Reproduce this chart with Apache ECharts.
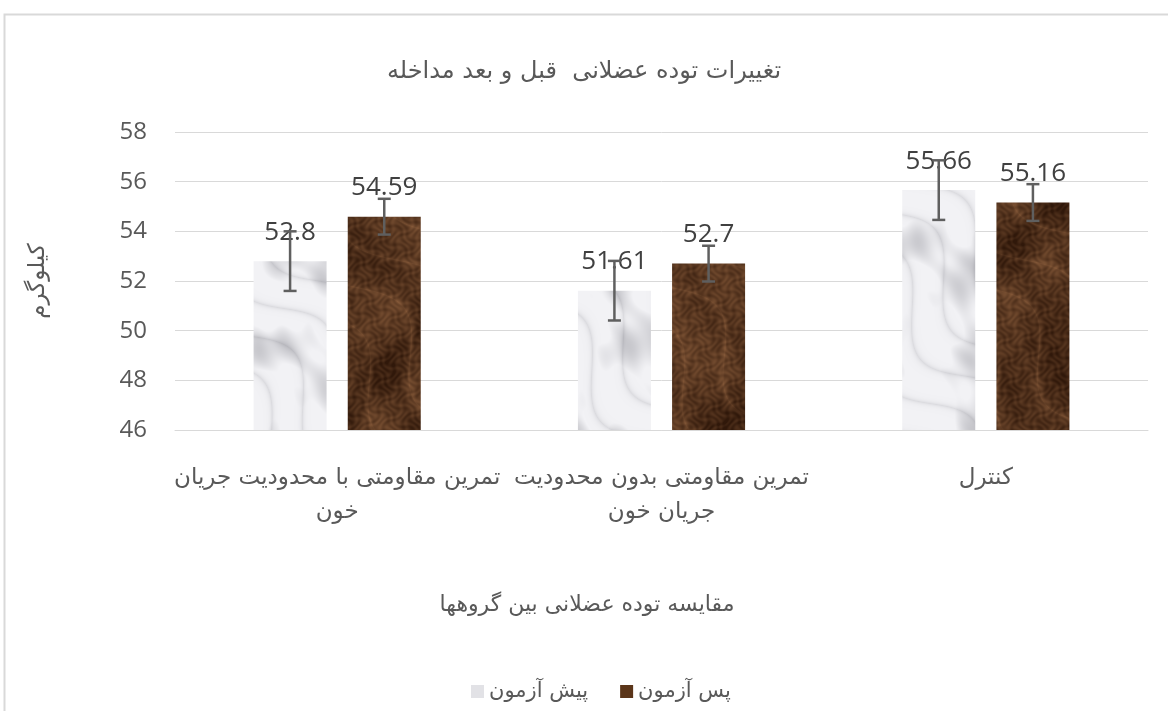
<!DOCTYPE html>
<html>
<head>
<meta charset="utf-8">
<script src="https://cdn.jsdelivr.net/npm/echarts@6/dist/echarts.min.js"></script>
<style>
html,body{margin:0;padding:0;background:#fff;}
#chart{width:1168px;height:711px;}
</style>
</head>
<body>
<div id="chart"></div>
<script>
// ---- data ----
const categories = ['تمرین مقاومتی با محدودیت جریان\nخون', 'تمرین مقاومتی بدون محدودیت\nجریان خون', 'کنترل'];
const seriesNames = ['پیش آزمون', 'پس آزمون'];
const preValues = [52.8, 51.61, 55.66];
const postValues = [54.59, 52.7, 55.16];
const preErrors = [1.2, 1.2, 1.2];
const postErrors = [0.72, 0.72, 0.74];
const yTicks = [46, 48, 50, 52, 54, 56, 58];
const titleText = 'تغییرات توده عضلانی  قبل و بعد مداخله';
const xAxisTitle = 'مقایسه توده عضلانی بین گروهها';
const yAxisTitle = 'کیلوگرم';

// ---- deterministic marble textures (cover full canvas, no tiling seams) ----
function clamp(v) { return v < 0 ? 0 : (v > 1 ? 1 : v); }
function marbleLight(w, h) {
  const c = document.createElement('canvas');
  c.width = w; c.height = h;
  const ctx = c.getContext('2d');
  const img = ctx.createImageData(w, h);
  const base = [242, 242, 245], dark = [160, 160, 167];
  for (let y = 0; y < h; y++) {
    for (let x = 0; x < w; x++) {
      const n = Math.sin(x * 0.045 - y * 0.03 + 2.2 * Math.sin(y * 0.017 + x * 0.013))
        + 0.6 * Math.sin(x * 0.09 + y * 0.06 + 1.5 * Math.sin(x * 0.037 - y * 0.021))
        + 0.35 * Math.sin(x * 0.19 - y * 0.12 + 1.2 * Math.sin(y * 0.07 + x * 0.03));
      const v = Math.sin(x * 0.06 - y * 0.045 + 1.8 * Math.sin(x * 0.025 + y * 0.028));
      let t = clamp((n - 0.1) * 0.28) + Math.exp(-Math.abs(v) * 5) * 0.28;
      t = clamp(t);
      const i = (y * w + x) * 4;
      for (let k = 0; k < 3; k++) img.data[i + k] = base[k] * (1 - t) + dark[k] * t;
      img.data[i + 3] = 255;
    }
  }
  ctx.putImageData(img, 0, 0);
  return c;
}
function marbleDark(w, h) {
  const c = document.createElement('canvas');
  c.width = w; c.height = h;
  const ctx = c.getContext('2d');
  const img = ctx.createImageData(w, h);
  const base = [48, 24, 10], lite = [150, 102, 66];
  for (let y = 0; y < h; y++) {
    for (let x = 0; x < w; x++) {
      const n = Math.sin(x * 0.035 + y * 0.028 + 2.0 * Math.sin(y * 0.019 + x * 0.014))
        + 0.5 * Math.sin(x * 0.08 - y * 0.05 + 1.4 * Math.sin(x * 0.033 + y * 0.012));
      const s = Math.sin(x * 0.52 + 2.1 * Math.sin(y * 0.31 + x * 0.07)) * Math.sin(y * 0.47 + 1.9 * Math.sin(x * 0.27 - y * 0.05));
      const v = Math.sin(x * 0.05 - y * 0.04 + 1.6 * Math.sin(x * 0.02 + y * 0.03));
      let t = clamp(0.28 + n * 0.13 + s * 0.16 + Math.exp(-Math.abs(v) * 6) * 0.25);
      const i = (y * w + x) * 4;
      for (let k = 0; k < 3; k++) img.data[i + k] = base[k] * (1 - t) + lite[k] * t;
      img.data[i + 3] = 255;
    }
  }
  ctx.putImageData(img, 0, 0);
  return c;
}
const lightTex = marbleLight(1168, 711);
const darkTex = marbleDark(1168, 711);

const chart = echarts.init(document.getElementById('chart'));

function errorSeries(values, errors, idx) {
  return {
    type: 'custom',
    z: 5,
    silent: true,
    data: values.map((v, i) => [i, v, errors[i]]),
    renderItem: function (params, api) {
      const ci = api.value(0);
      const v = api.value(1);
      const e = api.value(2);
      const layout = api.barLayout({ barWidth: 73, barGap: '29%', count: 2 });
      const base = api.coord([ci, v]);
      const x = base[0] + layout[idx].offsetCenter;
      const top = api.coord([ci, v + e])[1];
      const bot = api.coord([ci, v - e])[1];
      const cap = 6.5;
      const style = { stroke: '#5f5f5f', lineWidth: 2.5 };
      return {
        type: 'group',
        children: [
          { type: 'line', shape: { x1: x, y1: top, x2: x, y2: bot }, style: style },
          { type: 'line', shape: { x1: x - cap, y1: top, x2: x + cap, y2: top }, style: style },
          { type: 'line', shape: { x1: x - cap, y1: bot, x2: x + cap, y2: bot }, style: style }
        ]
      };
    }
  };
}

const labelStyle = {
  show: true,
  position: 'top',
  distance: 16,
  color: '#404040',
  fontSize: 26,
  fontFamily: 'Open Sans'
};

chart.setOption({
  animation: false,
  backgroundColor: '#ffffff',
  title: {
    text: titleText,
    left: 'center',
    top: 55,
    textStyle: { fontFamily: 'DejaVu Sans', fontSize: 24, fontWeight: 'normal', color: '#595959' }
  },
  graphic: [
    {
      type: 'rect',
      shape: { x: 4.5, y: 14.5, width: 1300, height: 900 },
      style: { fill: 'none', stroke: '#d9d9d9', lineWidth: 2 },
      silent: true
    },
    {
      type: 'text',
      x: 587, y: 605,
      style: {
        text: xAxisTitle,
        fill: '#595959',
        font: '22px "DejaVu Sans"',
        textAlign: 'center',
        textVerticalAlign: 'middle'
      }
    }
  ],
  legend: {
    data: [
      { name: seriesNames[0], itemStyle: { color: '#e2e2e6' } },
      { name: seriesNames[1], itemStyle: { color: '#5b3519' } }
    ],
    left: 466,
    top: 676,
    itemWidth: 13,
    itemHeight: 13,
    itemGap: 32,
    icon: 'rect',
    textStyle: { fontFamily: 'DejaVu Sans', fontSize: 21, color: '#595959' }
  },
  grid: { left: 175, right: 20, top: 132, bottom: 281 },
  xAxis: {
    type: 'category',
    data: categories,
    axisTick: { show: false },
    axisLine: { show: true, lineStyle: { color: '#d9d9d9' } },
    axisLabel: {
      color: '#595959',
      fontFamily: 'DejaVu Sans',
      fontSize: 23,
      lineHeight: 34,
      margin: 31,
      interval: 0
    }
  },
  yAxis: {
    type: 'value',
    min: yTicks[0],
    max: yTicks[yTicks.length - 1],
    interval: yTicks[1] - yTicks[0],
    name: yAxisTitle,
    nameLocation: 'middle',
    nameGap: 125,
    nameRotate: 90,
    nameTextStyle: { fontFamily: 'DejaVu Sans', fontSize: 23, color: '#595959' },
    axisLine: { show: false },
    axisTick: { show: false },
    axisLabel: { color: '#595959', fontFamily: 'Open Sans', fontSize: 24, margin: 28 },
    splitLine: { lineStyle: { color: '#d9d9d9', width: 1 } }
  },
  series: [
    {
      name: seriesNames[0],
      type: 'bar',
      data: preValues,
      barWidth: 73,
      barGap: '29%',
      itemStyle: { color: { image: lightTex, repeat: 'no-repeat' } },
      label: labelStyle
    },
    {
      name: seriesNames[1],
      type: 'bar',
      data: postValues,
      barWidth: 73,
      barGap: '29%',
      itemStyle: { color: { image: darkTex, repeat: 'no-repeat' } },
      label: labelStyle
    },
    errorSeries(preValues, preErrors, 0),
    errorSeries(postValues, postErrors, 1)
  ]
});
</script>
</body>
</html>
